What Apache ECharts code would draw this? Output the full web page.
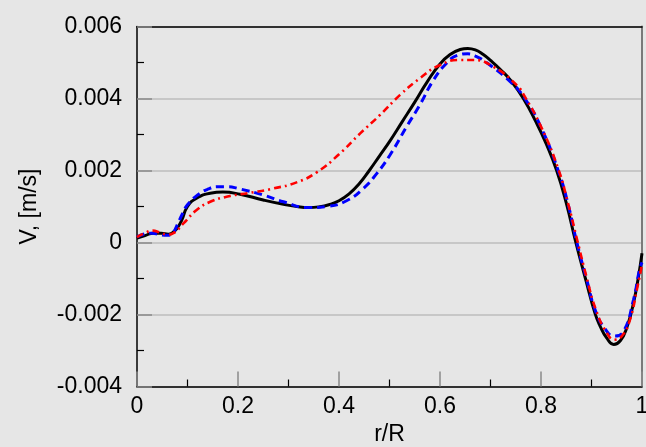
<!DOCTYPE html>
<html>
<head>
<meta charset="utf-8">
<script src="https://cdn.jsdelivr.net/npm/echarts@6/dist/echarts.min.js"></script>
<style>
  html, body { margin: 0; padding: 0; background: #e6e6e6; }
  #chart { width: 646px; height: 447px; }
</style>
</head>
<body>
<div id="chart"></div>
<script>
// Radial profile of velocity V against r/R, three solutions.
const rBlack = [0.000, 0.016, 0.032, 0.048, 0.062, 0.069, 0.079, 0.088, 0.100, 0.118, 0.145, 0.170, 0.204, 0.250, 0.290, 0.320, 0.340, 0.360, 0.380, 0.400, 0.420, 0.440, 0.460, 0.480, 0.500, 0.525, 0.550, 0.575, 0.600, 0.620, 0.640, 0.655, 0.670, 0.685, 0.700, 0.720, 0.740, 0.765, 0.790, 0.810, 0.831, 0.850, 0.869, 0.888, 0.907, 0.917, 0.930, 0.944, 0.957, 0.970, 0.983, 0.993, 1.000];
const vBlack = [0.00012, 0.00019, 0.00026, 0.00026, 0.00023, 0.00026, 0.00039, 0.00060, 0.00100, 0.00123, 0.00137, 0.00140, 0.00134, 0.00118, 0.00106, 0.00099, 0.00097, 0.00099, 0.00105, 0.00116, 0.00135, 0.00163, 0.00200, 0.00240, 0.00280, 0.00335, 0.00390, 0.00447, 0.00496, 0.00522, 0.00536, 0.00539, 0.00535, 0.00523, 0.00506, 0.00480, 0.00450, 0.00400, 0.00335, 0.00275, 0.00200, 0.00110, 0.00000, -0.00100, -0.00197, -0.00232, -0.00265, -0.00283, -0.00273, -0.00236, -0.00169, -0.00095, -0.00030];

const rBlue = [0.000, 0.015, 0.030, 0.045, 0.060, 0.070, 0.080, 0.090, 0.100, 0.120, 0.140, 0.160, 0.180, 0.200, 0.250, 0.290, 0.340, 0.376, 0.415, 0.448, 0.475, 0.501, 0.534, 0.560, 0.587, 0.613, 0.635, 0.655, 0.670, 0.692, 0.739, 0.768, 0.800, 0.834, 0.853, 0.871, 0.890, 0.908, 0.927, 0.945, 0.963, 0.983, 0.995, 1.000];
const vBlue = [0.00015, 0.00024, 0.00026, 0.00022, 0.00020, 0.00025, 0.00050, 0.00080, 0.00105, 0.00132, 0.00148, 0.00155, 0.00155, 0.00150, 0.00132, 0.00113, 0.00097, 0.00100, 0.00116, 0.00150, 0.00192, 0.00243, 0.00322, 0.00382, 0.00451, 0.00498, 0.00520, 0.00524, 0.00518, 0.00500, 0.00447, 0.00400, 0.00320, 0.00200, 0.00110, 0.00000, -0.00100, -0.00190, -0.00240, -0.00260, -0.00248, -0.00160, -0.00076, -0.00055];

const rRed = [0.000, 0.015, 0.031, 0.045, 0.060, 0.072, 0.092, 0.118, 0.145, 0.184, 0.224, 0.270, 0.316, 0.356, 0.400, 0.442, 0.481, 0.521, 0.560, 0.600, 0.640, 0.666, 0.706, 0.752, 0.768, 0.800, 0.834, 0.853, 0.872, 0.890, 0.909, 0.930, 0.945, 0.960, 0.975, 0.990, 1.000];
const vRed = [0.00015, 0.00026, 0.00033, 0.00028, 0.00022, 0.00026, 0.00053, 0.00090, 0.00113, 0.00129, 0.00138, 0.00150, 0.00167, 0.00195, 0.00245, 0.00303, 0.00354, 0.00410, 0.00456, 0.00493, 0.00507, 0.00507, 0.00488, 0.00437, 0.00405, 0.00322, 0.00205, 0.00112, 0.00005, -0.00095, -0.00188, -0.00250, -0.00270, -0.00260, -0.00220, -0.00130, -0.00060];

const xTicks = [0, 0.2, 0.4, 0.6, 0.8, 1];
const xTickLabels = ['0', '0.2', '0.4', '0.6', '0.8', '1'];
const yTicks = [-0.004, -0.002, 0, 0.002, 0.004, 0.006];
const yTickLabels = ['-0.004', '-0.002', '0', '0.002', '0.004', '0.006'];

function pairs(xs, ys) { return xs.map((x, i) => [x, ys[i]]); }
function lookup(ticks, labels) {
  return v => {
    const i = ticks.findIndex(t => Math.abs(t - v) < 1e-9);
    return i >= 0 ? labels[i] : '';
  };
}

const FONT = 'Liberation Sans, Arial, sans-serif';
const chart = echarts.init(document.getElementById('chart'), null, { renderer: 'canvas' });

chart.setOption({
  backgroundColor: '#e6e6e6',
  animation: false,
  grid: { left: 137, right: 4, top: 26.5, bottom: 60.5, containLabel: false, outerBoundsMode: 'none' },
  xAxis: [{
    type: 'value', min: 0, max: 1, interval: 0.2,
    name: 'r/R', nameLocation: 'middle', nameGap: 36,
    nameTextStyle: { fontSize: 23, color: '#000', fontFamily: FONT },
    axisLine: { show: true, onZero: false, lineStyle: { color: '#000', width: 1.5 } },
    axisTick: { show: true, inside: true, length: 15, lineStyle: { color: '#8a8a8a', width: 1.5 } },
    minorTick: { show: true, splitNumber: 2, length: 7, lineStyle: { color: '#000', width: 1.2 } },
    axisLabel: { fontSize: 23, color: '#000', fontFamily: FONT, margin: 9, formatter: lookup(xTicks, xTickLabels) },
    splitLine: { show: false }
  }, {
    type: 'value', min: 0, max: 1, position: 'top',
    axisLine: { show: true, onZero: false, lineStyle: { color: '#000', width: 1.5 } },
    axisTick: { show: false }, axisLabel: { show: false }, splitLine: { show: false }
  }],
  yAxis: [{
    type: 'value', min: -0.004, max: 0.006, interval: 0.002,
    name: 'V, [m/s]', nameLocation: 'middle', nameGap: 96, nameRotate: 90,
    nameTextStyle: { fontSize: 23, color: '#000', fontFamily: FONT },
    axisLine: { show: true, onZero: false, lineStyle: { color: '#000', width: 1.5 } },
    axisTick: { show: true, inside: true, length: 15, lineStyle: { color: '#8a8a8a', width: 1.5 } },
    minorTick: { show: true, splitNumber: 2, length: 7, lineStyle: { color: '#000', width: 1.2 } },
    axisLabel: { fontSize: 23, color: '#000', fontFamily: FONT, margin: 15, padding: [0, 0, 12, 0], formatter: lookup(yTicks, yTickLabels) },
    splitLine: { show: true, lineStyle: { color: '#bcbcbc', width: 1.5 } }
  }, {
    type: 'value', min: -0.004, max: 0.006, position: 'right',
    axisLine: { show: true, onZero: false, lineStyle: { color: '#7a7a7a', width: 2 } },
    axisTick: { show: false }, axisLabel: { show: false }, splitLine: { show: false }
  }],
  series: [{
    type: 'line', name: 'black', data: pairs(rBlack, vBlack), smooth: 0.5, showSymbol: false,
    lineStyle: { color: '#000', width: 3 }, z: 2
  }, {
    type: 'line', name: 'blue', data: pairs(rBlue, vBlue), smooth: 0.5, showSymbol: false,
    lineStyle: { color: '#0000ff', width: 3, type: [8, 5] }, z: 3
  }, {
    type: 'line', name: 'red', data: pairs(rRed, vRed), smooth: 0.5, showSymbol: false,
    lineStyle: { color: '#ff0000', width: 2.6, type: [7, 4, 2, 4] }, z: 4
  }]
});
</script>
</body>
</html>
